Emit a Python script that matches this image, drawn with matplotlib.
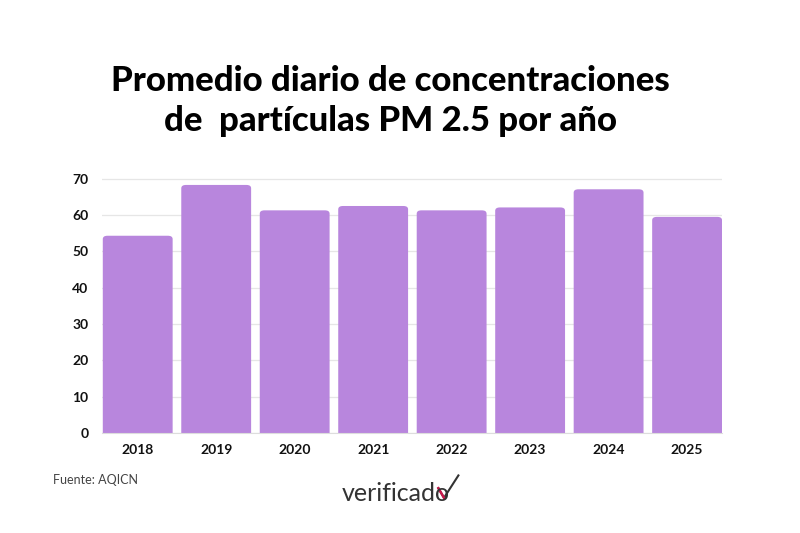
import matplotlib.pyplot as plt
from matplotlib.patches import FancyBboxPatch

years = ['2018', '2019', '2020', '2021', '2022', '2023', '2024', '2025']
pm25 = [54.3, 68.3, 61.3, 62.5, 61.3, 62.1, 67.1, 59.5]
yticks = [0, 10, 20, 30, 40, 50, 60, 70]

bar_color = '#b886dd'

fig = plt.figure(figsize=(8, 5.33), dpi=100)
ax = fig.add_axes([0.128, 0.188, 0.775, 0.48])

x = list(range(len(years)))
bars = ax.bar(x, pm25, width=0.89, color=bar_color, zorder=3)

# esquinas redondeadas arriba
for b in bars:
    b.set_visible(False)
    p = FancyBboxPatch((b.get_x(), -3), b.get_width(), b.get_height() + 3,
                       boxstyle='round,pad=0,rounding_size=0.06',
                       mutation_aspect=15, fc=bar_color, ec='none', zorder=3)
    ax.add_patch(p)

ax.set_xlim(-0.45, 7.45)
ax.set_ylim(0, 70.5)
ax.set_yticks(yticks)
ax.set_xticks(x)
ax.set_xticklabels(years)
ax.grid(axis='y', color='#e6e6e6', linewidth=0.9, zorder=0)
for s in ['top', 'right', 'left']:
    ax.spines[s].set_visible(False)
ax.spines['bottom'].set_color('#dddddd')
ax.spines['bottom'].set_zorder(4)
ax.tick_params(length=0, pad=8)
for lab in ax.get_xticklabels() + ax.get_yticklabels():
    lab.set_fontfamily('Lato')
    lab.set_fontweight('bold')
    lab.set_fontsize(10)
    lab.set_color('#111111')
ax.tick_params(axis='y', pad=10)

fig.text(0.488, 0.81, 'Promedio diario de concentraciones\nde  partículas PM 2.5 por año',
         ha='center', va='center', fontsize=25, fontfamily='Lato',
         fontweight='black', linespacing=1.3, color='black')

fig.text(0.066, 0.1, 'Fuente: AQICN', fontsize=9, fontfamily='Lato',
         color='#444444', va='center')

fig.text(0.495, 0.075, 'verificado', ha='center', va='center', fontsize=18,
         fontfamily='Lato', fontweight='normal', color='#333333')
# check del logo
fig.add_artist(plt.Line2D([0.548, 0.555, 0.573], [0.084, 0.066, 0.108],
                          color='#333333', linewidth=1.5))
fig.add_artist(plt.Line2D([0.548, 0.555], [0.084, 0.066],
                          color='#c8194b', linewidth=1.8))

fig.savefig('out.png', dpi=100, facecolor='white')
